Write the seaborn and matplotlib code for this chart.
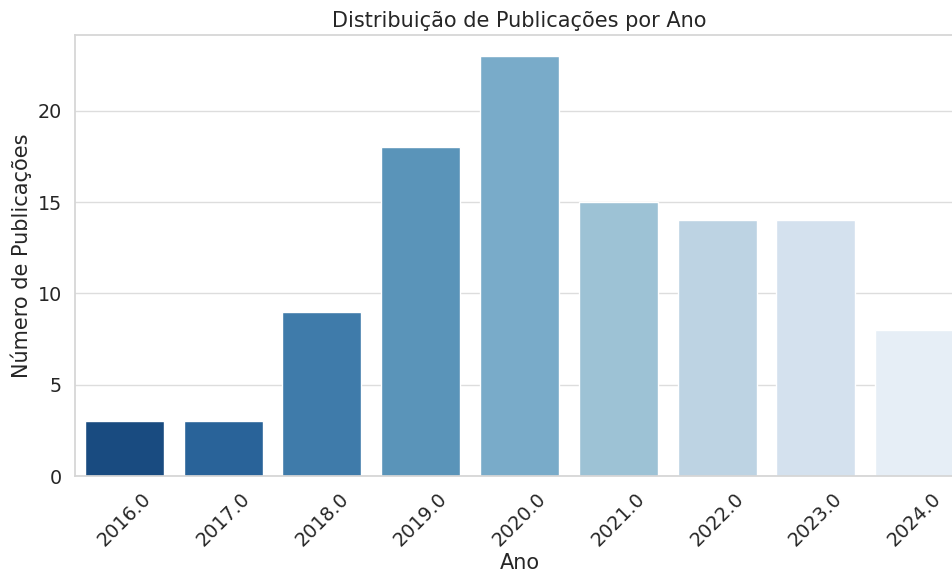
import pandas as pd
import matplotlib
matplotlib.use("Agg")
import matplotlib.pyplot as plt
import seaborn as sns

anos = [2016.0, 2017.0, 2018.0, 2019.0, 2020.0, 2021.0, 2022.0, 2023.0, 2024.0]
publicacoes = [3, 3, 9, 18, 23, 15, 14, 14, 8]

# years as text labels, so the palette is sampled per category
df = pd.DataFrame({'Ano': [str(a) for a in anos], 'Publicacoes': publicacoes})

sns.set_theme(style="whitegrid", font_scale=1.25)
plt.rcParams['grid.color'] = '#dddddd'
plt.rcParams['axes.edgecolor'] = '#d5d5d5'

fig = plt.figure(figsize=(9.53, 5.71), dpi=100)
# the original image is cropped on the right, so the axes runs past the edge
ax = fig.add_axes([75 / 953, 95 / 571, 889 / 953, 441 / 571])

sns.barplot(data=df, x='Ano', y='Publicacoes', hue='Ano', palette='Blues_r',
            legend=False, ax=ax)

ax.set_title('Distribuição de Publicações por Ano')
ax.set_xlabel('Ano', labelpad=2)
ax.set_ylabel('Número de Publicações')
ax.tick_params(axis='x', rotation=45)

fig.savefig('out.png', dpi=100)
